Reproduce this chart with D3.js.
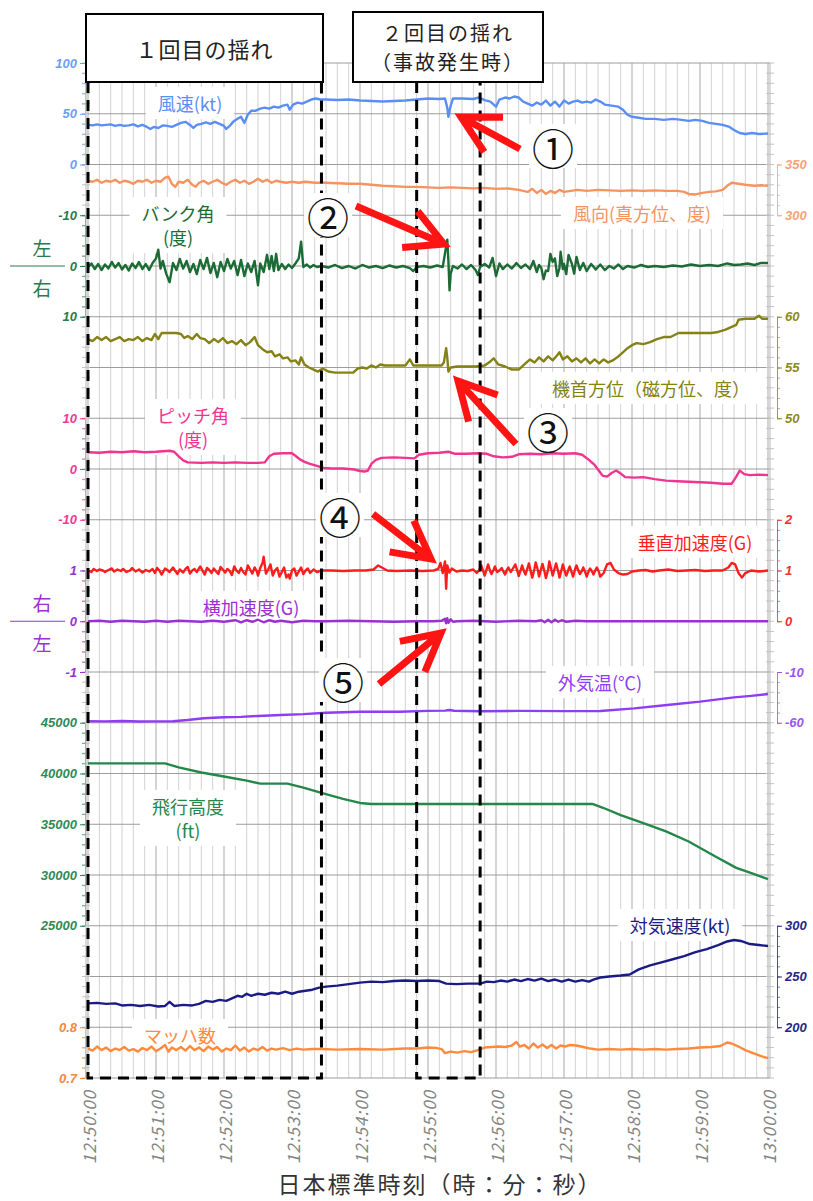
<!DOCTYPE html>
<html>
<head>
<meta charset="utf-8">
<title>飛行記録</title>
<script src="https://cdn.jsdelivr.net/npm/d3@7/dist/d3.min.js"></script>
<style>
  body { margin: 0; background: #fff; }
  text { font-family: "Noto Sans CJK JP", sans-serif; }
  .tick text { font-family: "Liberation Sans", Arial, sans-serif; font-style: italic; font-weight: bold; font-size: 13px; }
</style>
</head>
<body>
<svg id="chart" width="813" height="1201"></svg>
<script>
// time in seconds after 12:50:00
const timeTicks = [0, 60, 120, 180, 240, 300, 360, 420, 480, 540, 600];
const timeLabels = ["12:50:00", "12:51:00", "12:52:00", "12:53:00", "12:54:00", "12:55:00",
  "12:56:00", "12:57:00", "12:58:00", "12:59:00", "13:00:00"];
const firstShake = [0, 206];
const secondShake = [290, 346];

// [t, kt]
const windSpeed = [[0,39],[4,38.5],[8,39.5],[12,38.5],[16,39],[20,39.5],[24,38],[28,39],[32,38],[36,38.5],[40,39.5],[44,37.5],[48,39],[52,37],[55,35],[58,37],[62,36],[66,38.5],[70,38],[74,37],[78,39],[82,41],[86,42],[90,39],[93,36],[96,39],[100,40],[104,41.5],[108,40],[112,42],[116,40],[120,38],[122,35],[125,38],[128,42],[132,45],[135,47],[138,41],[141,49],[144,53],[148,53],[152,55],[156,56],[160,55],[164,57],[168,56],[172,58],[176,59],[178,54],[181,59],[185,61],[189,60],[193,62],[197,64],[201,65],[205,64],[210,64],[220,63.5],[230,64],[240,63],[250,62.5],[260,62],[270,62.5],[280,63],[290,64],[300,65],[310,64.5],[315,65],[317,56],[318,47],[320,58],[322,65],[330,65],[340,64.5],[345,66],[350,63.5],[355,62],[360,57],[363,64],[368,66],[372,65],[376,67],[380,66],[384,62],[388,60],[392,58],[396,61],[400,59],[404,63],[408,58],[412,62],[416,57],[420,63],[424,60],[428,62],[432,63],[436,61],[440,62],[444,61],[448,64],[452,62],[456,59],[462,58],[468,57],[472,54],[476,49],[480,47],[486,46],[492,45],[500,45],[508,44],[516,45],[524,44],[530,43],[536,44],[542,43],[548,41],[554,40],[560,39],[566,37],[570,34],[575,31],[580,30],[586,31],[592,30],[600,30.5]];

// [t, deg true]
const windDir = [[0,334],[4,333],[8,335],[12,332],[16,334],[20,333],[24,335],[28,332],[32,334],[36,333],[40,331],[44,334],[48,333],[52,335],[56,332],[60,334],[64,333],[68,337],[71,338],[74,331],[77,328],[80,333],[84,332],[88,335],[92,330],[95,328],[98,332],[102,334],[106,331],[110,333],[114,335],[118,332],[122,330],[126,333],[130,335],[134,332],[138,334],[142,331],[146,333],[150,336],[154,333],[158,335],[162,332],[166,334],[170,333],[175,332],[180,333],[186,332],[192,333],[200,332],[210,332],[220,331.5],[230,331],[240,331],[250,330],[260,329],[270,328.5],[280,328],[290,328],[300,327.5],[310,327],[320,327.5],[330,327],[340,326.5],[350,327],[360,326],[370,326.5],[380,325],[388,323],[392,326],[396,322],[400,325],[404,321],[408,324],[412,322],[416,325],[420,323],[426,324],[432,325],[440,324],[450,325],[460,324.5],[470,324],[480,324.5],[490,324],[500,324.5],[510,324],[520,324],[526,323],[530,321],[536,320.5],[542,322],[548,323],[554,323.5],[560,325],[564,329],[568,332],[574,331],[580,330],[588,329],[594,329.5],[600,329]];

// [t, deg] (+ = right wing down)
const bankAngle = [[0,0.2],[3,-0.5],[6,0.6],[9,-0.4],[12,0.8],[15,-0.3],[18,0.5],[21,-0.8],[24,0.3],[27,-0.6],[30,0.7],[33,-0.2],[36,0.9],[39,-0.5],[42,0.4],[45,-0.8],[48,0.6],[51,-0.4],[54,0.8],[57,-0.6],[60,-1.5],[62,-3.2],[64,0.5],[66,-1.0],[69,1.5],[72,3.2],[75,-0.6],[78,0.8],[81,-1.4],[84,0.5],[87,-1.0],[90,1.2],[93,-0.4],[96,1.6],[99,-1.2],[102,0.6],[105,-1.6],[108,1.4],[111,-0.6],[114,2.2],[117,-0.8],[120,1.0],[123,-1.4],[126,0.5],[129,-1.0],[132,1.8],[135,-1.2],[138,2.0],[141,-0.5],[144,1.2],[147,-1.0],[150,3.8],[152,-0.5],[155,1.2],[158,-2.2],[160,0.6],[162,-2.0],[164,1.0],[166,-2.4],[168,0.8],[171,-0.4],[174,0.6],[177,-0.3],[180,0.4],[183,-0.5],[186,-1.5],[188,-4.8],[190,0.2],[193,-0.3],[196,0.3],[199,-0.2],[202,0.2],[206,0.0],[212,0.3],[218,-0.2],[224,0.4],[230,0.0],[236,0.5],[242,-0.2],[248,0.3],[254,0.0],[260,0.4],[266,-0.1],[272,0.3],[278,0.0],[284,0.4],[287,1.0],[290,0.2],[296,0.0],[302,0.3],[308,-0.1],[313,0.2],[315,-2.5],[317,-5.2],[318,-1.0],[319,4.8],[320,1.5],[322,0.0],[326,0.5],[330,-0.3],[334,0.6],[338,-0.2],[342,0.8],[344,1.8],[346,0.2],[350,-0.4],[354,0.3],[357,-1.6],[360,2.0],[363,-0.5],[366,0.6],[370,-0.3],[374,0.5],[378,-0.6],[382,0.4],[386,-0.3],[390,0.6],[393,-1.0],[396,1.2],[398,-0.2],[400,0.4],[402,2.6],[404,0.9],[406,1.0],[408,-2.4],[410,-0.8],[412,-1.5],[414,2.0],[416,0.4],[417,-2.8],[419,0.6],[420,-0.4],[422,1.6],[424,-2.2],[427,-0.4],[429,1.5],[431,-1.8],[434,0.8],[437,-0.6],[440,1.0],[444,-0.4],[448,0.7],[452,-0.3],[456,0.8],[460,0.0],[464,0.5],[468,-0.3],[472,0.6],[476,0.0],[482,0.3],[488,-0.2],[494,0.2],[500,0.0],[508,0.2],[516,-0.1],[524,0.1],[532,-0.3],[540,0.0],[548,-0.2],[556,0.0],[564,-0.5],[570,-0.2],[576,-0.3],[582,-0.5],[588,-0.2],[594,-0.6],[600,-0.6]];

// [t, deg magnetic]
const heading = [[0,57.8],[4,57.6],[8,58.0],[12,57.7],[16,58.0],[20,57.6],[24,57.8],[28,58.0],[32,57.6],[36,57.8],[40,57.7],[44,58.0],[48,57.6],[52,57.9],[56,57.7],[59,58.3],[62,57.8],[65,58.4],[69,58.4],[74,58.4],[78,58.4],[82,58.3],[85,57.9],[88,58.1],[92,57.8],[96,58.3],[99,57.9],[103,57.8],[107,57.4],[111,57.8],[115,57.5],[119,57.9],[123,57.4],[127,57.6],[131,57.3],[135,57.7],[139,57.2],[143,57.5],[147,58.0],[150,57.2],[154,56.8],[158,56.5],[162,56.6],[165,56.1],[169,56.3],[172,55.9],[176,56.0],[179,55.6],[183,55.7],[186,55.3],[188,56.0],[191,55.3],[195,55.0],[199,54.8],[203,54.6],[207,54.9],[212,54.6],[218,54.5],[226,54.5],[234,54.5],[238,54.9],[242,55.0],[246,54.9],[250,55.2],[254,55.0],[258,55.3],[262,55.2],[270,55.2],[280,55.2],[284,55.8],[287,55.2],[295,55.2],[305,55.2],[312,55.2],[314,55.5],[316,56.9],[317,56.0],[318,54.6],[320,55.0],[326,55.1],[334,55.1],[342,55.1],[350,55.2],[355,55.6],[358,55.9],[362,55.3],[368,55.1],[374,54.8],[380,54.8],[386,55.4],[390,55.8],[394,55.5],[398,56.0],[402,55.6],[406,56.1],[410,55.7],[414,56.2],[416,56.5],[419,55.8],[423,56.1],[427,55.6],[431,55.9],[435,55.5],[439,55.9],[443,55.4],[447,55.8],[451,55.4],[455,55.8],[459,55.5],[463,55.7],[467,56.0],[472,56.5],[476,56.9],[480,57.2],[484,57.4],[490,57.3],[496,57.5],[502,57.8],[508,58.0],[514,58.0],[521,58.4],[530,58.4],[540,58.4],[550,58.4],[556,58.5],[562,58.7],[568,59.0],[572,59.2],[574,59.7],[580,59.8],[588,59.8],[592,60.1],[595,59.8],[600,59.8]];

// [t, deg]
const pitch = [[0,3.3],[10,3.2],[20,3.4],[30,3.3],[40,3.5],[50,3.3],[60,3.4],[66,3.5],[72,3.6],[76,3.4],[80,2.5],[84,1.7],[88,1.3],[100,1.2],[110,1.3],[120,1.2],[130,1.3],[140,1.2],[150,1.2],[156,1.3],[160,2.5],[164,3.0],[172,3.1],[180,3.1],[183,2.6],[187,1.9],[191,1.4],[196,1.0],[202,0.6],[208,0.2],[215,0.1],[225,0.1],[235,-0.1],[240,-0.4],[244,-0.5],[247,-0.3],[250,1.0],[254,1.8],[259,2.2],[270,2.3],[280,2.2],[288,2.1],[292,2.8],[300,3.1],[310,3.2],[318,3.4],[324,3.0],[334,3.0],[344,3.1],[352,3.0],[358,2.5],[366,2.3],[374,2.4],[380,2.9],[390,3.0],[400,2.9],[410,3.1],[420,3.0],[430,3.1],[436,2.8],[442,1.8],[447,0.8],[451,-0.4],[454,-1.3],[458,-1.5],[462,-0.8],[466,-0.3],[470,-0.9],[474,-1.6],[482,-1.7],[490,-1.6],[500,-2.0],[510,-2.3],[520,-2.4],[530,-2.5],[540,-2.6],[550,-2.7],[560,-2.9],[568,-2.9],[572,-1.5],[575,-0.3],[579,-1.0],[584,-1.2],[592,-1.1],[600,-1.2]];

// [t, G]
const vertAccel = [[0,1.0],[3,0.97],[5,1.03],[8,0.99],[10,1.02],[13,1.0],[15,0.97],[18,1.01],[21,1.04],[23,0.98],[26,1.02],[29,0.99],[31,1.03],[34,0.97],[37,1.0],[39,1.05],[42,0.98],[45,1.02],[48,0.96],[51,1.01],[54,0.98],[57,1.03],[59,0.95],[61,1.05],[63,1.0],[65,0.92],[68,1.04],[70,1.01],[72,0.97],[75,1.06],[77,0.99],[79,0.93],[81,1.02],[84,0.96],[86,1.03],[88,1.07],[90,0.94],[92,1.0],[94,1.03],[96,0.97],[99,1.08],[101,1.0],[103,0.92],[105,1.05],[107,1.01],[109,0.95],[111,1.04],[113,0.98],[115,0.93],[117,1.07],[119,1.02],[121,0.96],[123,1.03],[125,0.99],[127,0.91],[129,1.08],[131,1.0],[133,0.95],[135,1.05],[137,0.97],[139,0.92],[141,1.1],[143,1.02],[145,0.94],[147,1.06],[149,0.98],[150,0.9],[152,1.05],[154,1.15],[155,1.27],[157,0.94],[159,1.02],[161,1.12],[163,0.9],[165,1.0],[167,1.05],[169,0.88],[171,0.97],[173,1.06],[175,0.86],[177,0.92],[178,0.84],[180,1.0],[182,1.04],[184,0.9],[186,0.98],[188,1.06],[190,0.93],[192,1.0],[194,1.04],[196,0.95],[199,1.02],[202,0.97],[206,1.0],[215,1.0],[225,0.99],[235,1.0],[245,1.0],[252,1.02],[256,1.1],[260,1.05],[264,1.0],[272,0.99],[285,1.0],[295,0.99],[305,1.0],[309,1.03],[311,1.15],[313,0.95],[315,1.18],[316,0.64],[317,1.1],[319,0.96],[321,1.04],[325,0.98],[330,1.0],[335,0.99],[340,1.02],[343,0.95],[345,1.0],[347,1.1],[349,0.97],[350,0.9],[352,1.04],[353,1.12],[355,0.98],[356,0.93],[358,1.02],[359,1.08],[361,0.97],[363,1.0],[365,1.05],[367,0.96],[368,0.92],[370,1.03],[371,1.06],[373,0.97],[375,1.04],[377,1.12],[379,0.98],[380,0.89],[382,1.02],[383,1.1],[385,0.97],[386,0.92],[388,1.06],[389,1.14],[391,0.95],[392,0.86],[394,1.04],[395,1.16],[397,1.0],[398,0.88],[400,1.05],[401,1.13],[403,0.96],[404,0.85],[406,1.02],[407,1.18],[409,1.0],[410,0.9],[412,1.06],[413,1.14],[415,0.97],[416,0.86],[418,1.03],[419,1.12],[421,0.96],[422,0.9],[424,1.02],[425,1.08],[427,0.95],[428,0.88],[430,1.04],[431,1.1],[433,0.98],[434,0.93],[436,1.0],[437,1.06],[439,0.95],[440,0.88],[442,1.0],[443,1.04],[445,0.97],[446,0.92],[448,1.02],[449,1.06],[451,0.96],[452,0.88],[455,0.95],[458,1.12],[461,1.15],[464,1.02],[468,0.95],[472,0.92],[476,0.93],[480,0.98],[486,1.0],[492,1.01],[498,0.98],[504,1.0],[512,1.02],[520,0.99],[528,1.0],[536,1.01],[544,0.99],[552,1.0],[560,1.0],[565,1.06],[568,1.15],[571,1.12],[574,0.95],[577,0.86],[580,0.95],[585,1.0],[592,0.98],[600,1.0]];

// [t, G] (+ = right)
const latAccel = [[0,0.0],[10,0.01],[20,-0.01],[30,0.01],[40,0.0],[50,-0.01],[60,0.01],[70,-0.01],[80,0.01],[90,0.0],[100,-0.01],[110,0.01],[120,-0.01],[130,0.02],[135,-0.02],[140,0.02],[145,-0.01],[150,0.03],[155,-0.02],[160,0.02],[165,-0.01],[170,0.01],[180,-0.02],[190,0.01],[200,0.0],[210,0.0],[230,0.01],[250,0.0],[270,-0.01],[290,0.0],[305,0.0],[312,0.01],[315,0.05],[316,-0.04],[317,0.06],[318,-0.03],[320,0.04],[322,-0.01],[326,0.0],[340,0.01],[360,-0.01],[380,0.01],[395,0.0],[400,0.02],[403,-0.02],[406,0.03],[409,-0.02],[412,0.03],[415,-0.01],[418,0.02],[422,-0.01],[430,0.01],[440,0.0],[460,0.0],[480,0.0],[500,0.0],[530,0.0],[560,0.0],[600,0.0]];

// [t, deg C]
const outsideTemp = [[0,-58.5],[15,-58.6],[30,-58.3],[45,-58.7],[60,-58.6],[75,-58.5],[88,-57.3],[102,-55.6],[120,-54.6],[135,-54.2],[150,-53.3],[170,-52.3],[190,-51.5],[210,-50.2],[240,-49.1],[275,-49.1],[300,-48.3],[315,-48.1],[319,-47.4],[323,-48.2],[346,-48.6],[380,-48.3],[420,-48.5],[452,-48.4],[482,-45.8],[511,-42.5],[540,-39.2],[570,-35],[585,-33.5],[600,-31.7]];

// [t, ft]
const altitude = [[0,41000],[40,41000],[68,41000],[80,40600],[100,40100],[120,39700],[140,39300],[152,39000],[176,39000],[190,38600],[206,38100],[225,37500],[240,37100],[250,37000],[300,37000],[400,37000],[445,37000],[455,36600],[470,35900],[490,35100],[510,34300],[530,33300],[554,31800],[572,30700],[586,30150],[600,29600]];

// [t, kt]
const airspeed = [[0,223.5],[8,224],[16,223],[24,223.5],[30,221.5],[38,222],[46,221],[54,222],[62,220.5],[68,221],[72,225],[76,221],[84,222],[92,221.5],[98,223],[104,226],[110,225],[116,227],[122,226],[128,229],[132,231],[136,230],[140,233],[144,231],[150,233],[156,232],[162,234],[168,233],[174,235],[180,233],[186,235],[192,236],[198,237],[204,239],[210,240],[220,241],[230,242.5],[240,244],[250,245],[260,244.5],[270,245.5],[280,246],[290,245.5],[300,246],[310,245.5],[316,243],[325,242.5],[335,243],[346,243],[352,245],[358,244.5],[364,246],[370,245],[376,247],[382,245.5],[388,247.5],[394,246],[400,248],[406,245.5],[412,247],[418,245],[424,247],[430,245],[436,246.5],[442,245],[446,247],[452,249],[460,250],[470,251],[478,252],[486,257],[496,261],[506,264],[516,267],[526,270],[536,274],[546,277],[556,281],[564,284.5],[570,286],[576,285],[584,282],[592,281],[600,280]];

// [t, Mach]
const mach = [[0,0.758],[4,0.754],[8,0.762],[12,0.755],[16,0.76],[20,0.753],[24,0.758],[28,0.755],[32,0.761],[36,0.754],[40,0.757],[44,0.752],[48,0.759],[52,0.755],[56,0.762],[60,0.753],[64,0.758],[68,0.765],[71,0.752],[74,0.76],[78,0.755],[82,0.761],[86,0.754],[90,0.763],[94,0.755],[98,0.76],[102,0.753],[106,0.762],[110,0.756],[114,0.761],[118,0.752],[122,0.758],[126,0.755],[130,0.764],[134,0.754],[138,0.76],[142,0.752],[146,0.758],[150,0.755],[154,0.761],[158,0.754],[162,0.758],[166,0.756],[172,0.759],[178,0.755],[184,0.758],[190,0.756],[198,0.757],[206,0.757],[220,0.756],[240,0.757],[260,0.756],[280,0.758],[290,0.758],[300,0.76],[308,0.759],[312,0.757],[315,0.749],[320,0.752],[326,0.75],[332,0.753],[338,0.751],[344,0.755],[350,0.76],[356,0.761],[362,0.762],[368,0.761],[374,0.764],[378,0.771],[381,0.762],[385,0.765],[389,0.758],[393,0.768],[397,0.76],[401,0.766],[405,0.759],[409,0.765],[413,0.758],[417,0.764],[421,0.762],[425,0.765],[431,0.764],[437,0.761],[443,0.758],[450,0.756],[460,0.757],[470,0.756],[480,0.757],[490,0.756],[500,0.757],[510,0.756],[520,0.757],[530,0.758],[540,0.76],[550,0.761],[558,0.763],[564,0.77],[568,0.768],[574,0.762],[580,0.755],[588,0.748],[594,0.743],[600,0.739]];

const windSpeedTicks = [0, 50, 100];
const windDirTicks = [300, 350];
const bankTicks = [-10, 0, 10];
const headingTicks = [50, 55, 60];
const pitchTicks = [-10, 0, 10];
const vertAccelTicks = [0, 1, 2];
const latAccelTicks = [-1, 0, 1];
const tempTicks = [-60, -10];
const altTicks = [25000, 30000, 35000, 40000, 45000];
const airspeedTicks = [200, 250, 300];
const machTicks = [0.7, 0.8];

const series = [
  { data: windSpeed, color: "#5b8ef5", axisColor: "#6d9ef5", domain: [0, 100], rows: [2, 0], side: "left", ticks: windSpeedTicks, minor: 10 },
  { data: windDir, color: "#f7935f", axisColor: "#f7a37a", domain: [300, 350], rows: [3, 2], side: "right", ticks: windDirTicks, minor: 10 },
  { data: bankAngle, color: "#1c6b35", axisColor: "#2b7a4b", domain: [-10, 10], rows: [3, 5], side: "left", ticks: bankTicks, minor: 2 },
  { data: heading, color: "#858114", axisColor: "#8a8a1a", domain: [50, 60], rows: [7, 5], side: "right", ticks: headingTicks, minor: 1 },
  { data: pitch, color: "#f0348f", axisColor: "#ee3a92", domain: [-10, 10], rows: [9, 7], side: "left", ticks: pitchTicks, minor: 2 },
  { data: vertAccel, color: "#ff1c1c", axisColor: "#f03030", domain: [0, 2], rows: [11, 9], side: "right", ticks: vertAccelTicks, minor: 0.2 },
  { data: latAccel, color: "#9a30d0", axisColor: "#9a30d0", domain: [-1, 1], rows: [12, 10], side: "left", ticks: latAccelTicks, minor: 0.2 },
  { data: outsideTemp, color: "#8e3cf5", axisColor: "#9a55f0", domain: [-60, -10], rows: [13, 12], side: "right", ticks: tempTicks, minor: 10 },
  { data: altitude, color: "#23874a", axisColor: "#2e8b57", domain: [25000, 45000], rows: [17, 13], side: "left", ticks: altTicks, minor: 1000 },
  { data: airspeed, color: "#1b1b86", axisColor: "#26268a", domain: [200, 300], rows: [19, 17], side: "right", ticks: airspeedTicks, minor: 10 },
  { data: mach, color: "#ff8a3d", axisColor: "#f08a40", domain: [0.7, 0.8], rows: [20, 19], side: "left", ticks: machTicks, minor: 0.02 }
];

const seriesLabels = [
  { lines: ["風速(kt)"], x: 190, y: 103, color: "#5b8ef5" },
  { lines: ["風向(真方位、度)"], x: 642, y: 213, color: "#f7935f" },
  { lines: ["バンク角", "(度)"], x: 178, y: 213, color: "#1c6b35" },
  { lines: ["機首方位（磁方位、度）"], x: 651, y: 388, color: "#858114" },
  { lines: ["ピッチ角", "(度)"], x: 193, y: 415, color: "#f0348f" },
  { lines: ["垂直加速度(G)"], x: 695, y: 542, color: "#ff1c1c" },
  { lines: ["横加速度(G)"], x: 251, y: 607, color: "#9a30d0" },
  { lines: ["外気温(℃)"], x: 600, y: 682, color: "#8e3cf5" },
  { lines: ["飛行高度", "(ft)"], x: 188, y: 806, color: "#23874a" },
  { lines: ["対気速度(kt)"], x: 680, y: 925, color: "#1b1b86" },
  { lines: ["マッハ数"], x: 180, y: 1035, color: "#ff8a3d" }
];

const callouts = [
  { mark: "①", cx: 553, cy: 146, tip: [461, 117], tail: [520, 149] },
  { mark: "②", cx: 328, cy: 215, tip: [444, 244], tail: [356, 206] },
  { mark: "③", cx: 548, cy: 430, tip: [458, 381], tail: [516, 444] },
  { mark: "④", cx: 340, cy: 515, tip: [431, 559], tail: [373, 514] },
  { mark: "⑤", cx: 343, cy: 680, tip: [441, 633], tail: [379, 684] }
];

const svg = d3.select("#chart");
const X0 = 88, X1 = 768, TOP = 63, U = 50.75, NROWS = 20;
const row = k => TOP + k * U;
const x = d3.scaleLinear().domain([0, 600]).range([X0, X1]);
const BOTTOM = row(NROWS);

// grid
const grid = svg.append("g");
grid.selectAll("line.vg").data(d3.range(0, 601, 10)).join("line")
  .attr("class", "vg")
  .attr("x1", d => x(d)).attr("x2", d => x(d))
  .attr("y1", TOP).attr("y2", BOTTOM)
  .attr("stroke", d => d % 60 === 0 ? "#a9a9a9" : "#d2d2d2")
  .attr("stroke-width", 1);
grid.selectAll("line.hg").data(d3.range(0, NROWS + 1)).join("line")
  .attr("class", "hg")
  .attr("x1", X0).attr("x2", X1 + 2)
  .attr("y1", d => row(d)).attr("y2", d => row(d))
  .attr("stroke", "#9c9c9c").attr("stroke-width", 1);

// gray frame axes with minor ticks
[[X0 - 2, -4], [X1 + 2, 4]].forEach(([fx, dir]) => {
  grid.append("line").attr("x1", fx).attr("x2", fx).attr("y1", TOP).attr("y2", BOTTOM)
    .attr("stroke", "#b5b5b5");
  grid.selectAll(null).data(d3.range(0, NROWS * 5 + 1)).join("line")
    .attr("x1", fx - dir).attr("x2", fx + dir)
    .attr("y1", d => TOP + d * U / 5).attr("y2", d => TOP + d * U / 5)
    .attr("stroke", "#c2c2c2");
});

// series label boxes
seriesLabels.forEach(lb => {
  const g = svg.append("g");
  const t = g.append("text")
    .attr("text-anchor", "middle")
    .attr("fill", lb.color)
    .attr("font-size", 18);
  lb.lines.forEach((ln, i) => {
    t.append("tspan").attr("x", lb.x).attr("y", lb.y + i * 24)
      .attr("dominant-baseline", "central").text(ln);
  });
  const bb = t.node().getBBox();
  g.insert("rect", "text")
    .attr("x", bb.x - 12).attr("y", bb.y - 3)
    .attr("width", bb.width + 24).attr("height", bb.height + 6)
    .attr("fill", "#fff");
});

// axes
series.forEach(s => {
  s.y = d3.scaleLinear().domain(s.domain).range([row(s.rows[0]), row(s.rows[1])]);
  const minorVals = d3.range(s.domain[0], s.domain[1] + s.minor / 2, s.minor);
  const isLeft = s.side === "left";
  const ax = isLeft ? X0 - 3 : X1 + 9;
  const mk = isLeft ? d3.axisLeft : d3.axisRight;

  const minorG = svg.append("g").attr("transform", `translate(${ax},0)`)
    .call(mk(s.y).tickValues(minorVals).tickSize(3).tickSizeOuter(0).tickFormat(""));
  minorG.selectAll("line").attr("stroke", s.axisColor).attr("opacity", 0.6);
  minorG.select(".domain").attr("stroke", s.axisColor).attr("opacity", isLeft ? 0.4 : 0.8);

  const majorG = svg.append("g").attr("transform", `translate(${ax},0)`)
    .call(mk(s.y).tickValues(s.ticks).tickSize(5).tickPadding(3)
      .tickSizeOuter(0).tickFormat(d => String(d)));
  majorG.select(".domain").remove();
  majorG.selectAll("line").attr("stroke", s.axisColor);
  majorG.selectAll("text").attr("fill", s.axisColor);
});

// left/right markers for bank and lateral acceleration
const sideMarks = [
  { s: series[2], zero: 0, up: "左", down: "右" },
  { s: series[6], zero: 0, up: "右", down: "左" }
];
sideMarks.forEach(m => {
  const yz = m.s.y(m.zero);
  svg.append("line").attr("x1", 10).attr("x2", 65).attr("y1", yz).attr("y2", yz)
    .attr("stroke", m.s.axisColor).attr("stroke-width", 1);
  svg.append("text").attr("x", 42).attr("y", yz - 19).attr("text-anchor", "middle")
    .attr("dominant-baseline", "central").attr("font-size", 19).attr("fill", m.s.axisColor).text(m.up);
  svg.append("text").attr("x", 42).attr("y", yz + 21).attr("text-anchor", "middle")
    .attr("dominant-baseline", "central").attr("font-size", 19).attr("fill", m.s.axisColor).text(m.down);
});

// series lines
series.forEach(s => {
  const line = d3.line().x(d => x(d[0])).y(d => s.y(d[1]));
  svg.append("path").datum(s.data)
    .attr("d", line)
    .attr("fill", "none")
    .attr("stroke", s.color)
    .attr("stroke-width", 2.4)
    .attr("stroke-linejoin", "round");
});

// x axis labels
svg.append("g").selectAll("text").data(timeTicks).join("text")
  .attr("transform", d => `translate(${x(d)},1090) rotate(-90)`)
  .attr("text-anchor", "end")
  .attr("dominant-baseline", "central")
  .attr("font-family", "Liberation Sans, Arial, sans-serif")
  .attr("font-style", "italic")
  .attr("font-size", 17)
  .attr("letter-spacing", 1)
  .attr("fill", "#858585")
  .text((d, i) => timeLabels[i]);

svg.append("text").attr("x", 440).attr("y", 1183)
  .attr("text-anchor", "middle").attr("dominant-baseline", "central")
  .attr("font-size", 23).attr("letter-spacing", 2).attr("fill", "#333")
  .text("日本標準時刻（時：分：秒）");

// shake periods (dashed frames)
const dash = svg.append("g").attr("stroke", "#000").attr("stroke-width", 3)
  .attr("stroke-dasharray", "11,7").attr("fill", "none");
[firstShake, secondShake].forEach(p => {
  dash.append("path")
    .attr("d", `M${x(p[0])},82 V${BOTTOM} H${x(p[1])} V82`);
});

const headers = [
  { x0: 86, x1: 323, y0: 14, y1: 82, lines: ["１回目の揺れ"], ls: 1, fs: 22 },
  { x0: 353, x1: 543, y0: 12, y1: 82, lines: ["２回目の揺れ", "（事故発生時）"], ls: 2, fs: 20 }
];
headers.forEach(h => {
  svg.append("rect").attr("x", h.x0).attr("y", h.y0)
    .attr("width", h.x1 - h.x0).attr("height", h.y1 - h.y0)
    .attr("fill", "#fff").attr("stroke", "#000").attr("stroke-width", 2);
  const cy = (h.y0 + h.y1) / 2;
  const n = h.lines.length;
  h.lines.forEach((ln, i) => {
    svg.append("text").attr("x", (h.x0 + h.x1) / 2)
      .attr("y", cy + (i - (n - 1) / 2) * 29)
      .attr("text-anchor", "middle").attr("dominant-baseline", "central")
      .attr("font-size", h.fs).attr("letter-spacing", h.ls).attr("fill", "#222")
      .text(ln);
  });
});

// callouts
callouts.forEach(c => {
  svg.append("rect").attr("x", c.cx - 24).attr("y", c.cy - 22)
    .attr("width", 48).attr("height", 44).attr("fill", "#fff");
  svg.append("text").attr("x", c.cx).attr("y", c.cy)
    .attr("text-anchor", "middle").attr("dominant-baseline", "central")
    .attr("font-size", 42).attr("fill", "#111").text(c.mark);

  const [tx, ty] = c.tip, [bx, by] = c.tail;
  const ang = Math.atan2(by - ty, bx - tx);
  const hl = 42, ha = 28 * Math.PI / 180;
  const h1 = [tx + hl * Math.cos(ang - ha), ty + hl * Math.sin(ang - ha)];
  const h2 = [tx + hl * Math.cos(ang + ha), ty + hl * Math.sin(ang + ha)];
  svg.append("path")
    .attr("d", `M${bx},${by} L${tx},${ty} M${h1[0]},${h1[1]} L${tx},${ty} L${h2[0]},${h2[1]}`)
    .attr("fill", "none").attr("stroke", "#ff1414").attr("stroke-width", 7)
    .attr("stroke-linecap", "butt").attr("stroke-linejoin", "miter");
});
</script>
</body>
</html>
